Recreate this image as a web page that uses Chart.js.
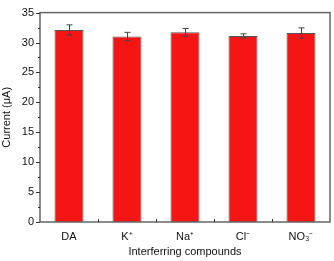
<!DOCTYPE html>
<html>
<head>
<meta charset="UTF-8">
<script src="https://cdn.jsdelivr.net/npm/chart.js"></script>
<style>
  body { margin: 0; background: #fff; }
  .wrap { width: 334px; height: 261px; position: relative; }
</style>
</head>
<body>
<div class="wrap"><canvas id="c"></canvas></div>
<script>
const labels = ["DA", "K\u207A", "Na\u207A", "Cl\u207B", "NO\u2083\u207B"];
const currents = [32.1, 31.0, 31.7, 31.1, 31.6];
const errors = [0.85, 0.7, 0.65, 0.35, 0.85];
const yTicks = [0, 5, 10, 15, 20, 25, 30, 35];

const errorBars = {
  id: 'errorBars',
  afterDatasetsDraw(chart) {
    const ctx = chart.ctx, y = chart.scales.y;
    const meta = chart.getDatasetMeta(0);
    ctx.save();
    ctx.strokeStyle = '#444';
    ctx.lineWidth = 1;
    meta.data.forEach((bar, i) => {
      const x = Math.round(bar.x) + 0.5;
      const top = y.getPixelForValue(currents[i] + errors[i]);
      const bot = y.getPixelForValue(currents[i] - errors[i]);
      ctx.beginPath();
      ctx.moveTo(x, top); ctx.lineTo(x, bot);
      ctx.moveTo(x - 3, top); ctx.lineTo(x + 3, top);
      ctx.moveTo(x - 3, bot); ctx.lineTo(x + 3, bot);
      ctx.stroke();
    });
    ctx.restore();
  }
};

const frame = {
  id: 'frame',
  afterDraw(chart) {
    const ctx = chart.ctx, a = chart.chartArea, y = chart.scales.y, x = chart.scales.x;
    ctx.save();
    ctx.strokeStyle = '#666';
    ctx.lineWidth = 1.5;
    ctx.strokeRect(a.left, a.top, a.right - a.left, a.bottom - a.top);
    ctx.lineWidth = 1;
    ctx.strokeStyle = '#333';
    ctx.beginPath();
    for (let v = 0; v <= 35; v += 2.5) {
      const py = Math.round(y.getPixelForValue(v)) + 0.5;
      const len = v % 5 === 0 ? 4 : 2;
      ctx.moveTo(a.left, py); ctx.lineTo(a.left - len, py);
    }
    const step = (a.right - a.left) / labels.length;
    for (let i = 1; i < labels.length; i++) {
      const px = Math.round(a.left + step * i) + 0.5;
      ctx.moveTo(px, a.bottom); ctx.lineTo(px, a.bottom - 3);
    }
    ctx.stroke();
    ctx.restore();
  }
};

new Chart(document.getElementById('c'), {
  type: 'bar',
  data: {
    labels: labels,
    datasets: [{
      data: currents,
      backgroundColor: '#f51515',
      borderColor: '#555',
      borderWidth: 1,
      categoryPercentage: 1,
      barPercentage: 0.5
    }]
  },
  options: {
    responsive: true,
    maintainAspectRatio: false,
    animation: false,
    layout: { padding: { top: 5, right: 4, left: 0, bottom: 0 } },
    plugins: { legend: { display: false }, tooltip: { enabled: false } },
    scales: {
      x: {
        grid: { display: false, drawTicks: false },
        border: { display: false },
        ticks: { color: '#111', font: { family: 'Liberation Sans', size: 11 }, padding: 8, maxRotation: 0 },
        title: { display: true, text: 'Interferring compounds', color: '#111',
                 font: { family: 'Liberation Sans', size: 11 }, padding: { top: 2, bottom: 2 } },
        afterFit(s) { s.height = 39; }
      },
      y: {
        min: 0, max: 35,
        afterBuildTicks(s) { s.ticks = yTicks.map(v => ({ value: v })); },
        grid: { display: false, drawTicks: false },
        border: { display: false },
        ticks: { color: '#111', font: { family: 'Liberation Sans', size: 11 }, padding: 6 },
        title: { display: true, text: 'Current (\u03BCA)', color: '#111',
                 font: { family: 'Liberation Sans', size: 11 }, padding: { top: 0, bottom: 4 } },
        afterFit(s) { s.width = 40; }
      }
    }
  },
  plugins: [errorBars, frame]
});
</script>
</body>
</html>
